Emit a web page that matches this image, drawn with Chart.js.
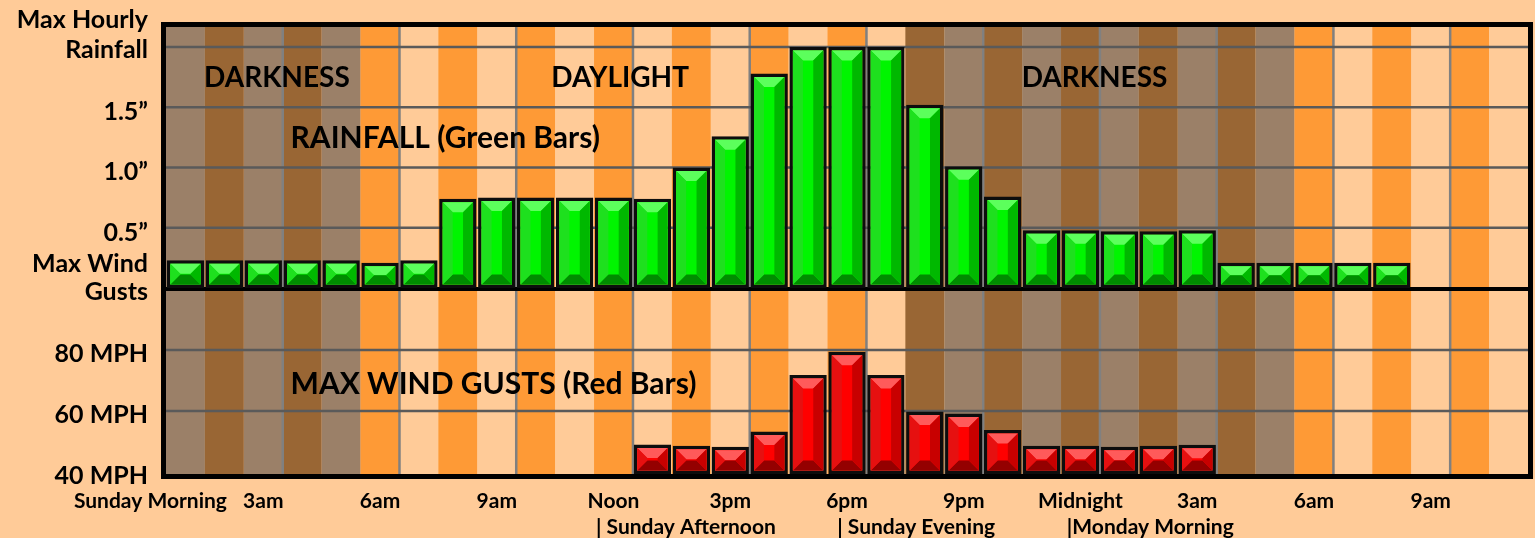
<!DOCTYPE html>
<html>
<head>
<meta charset="utf-8">
<script src="https://cdn.jsdelivr.net/npm/chart.js@4/dist/chart.umd.min.js"></script>
<style>
  html, body { margin: 0; padding: 0; background: #ffcb98; }
  #wrap { width: 1535px; height: 538px; }
</style>
</head>
<body>
<div id="wrap"><canvas id="stormChart"></canvas></div>
<script>
// one category per hour, Sunday midnight -> Monday 11am
const hourLabels = ["", "", "3am", "", "", "6am", "", "", "9am", "", "", "Noon", "", "",
  "3pm", "", "", "6pm", "", "", "9pm", "", "", "Midnight", "", "", "3am", "", "",
  "6am", "", "", "9am", "", ""];

// N = darkness, D = daylight
const lightPeriod = ["N", "N", "N", "N", "N", "D", "D", "D", "D", "D", "D", "D", "D", "D",
  "D", "D", "D", "D", "D", "N", "N", "N", "N", "N", "N", "N", "N", "N", "N",
  "D", "D", "D", "D", "D", "D"];

// max hourly rainfall, inches
const rainfall = [0.23, 0.23, 0.23, 0.23, 0.23, 0.21, 0.23, 0.74, 0.75, 0.75, 0.75, 0.75,
  0.74, 1.0, 1.26, 1.78, 2.0, 2.0, 2.0, 1.52, 1.01, 0.76, 0.48, 0.48, 0.47, 0.47, 0.48,
  0.21, 0.21, 0.21, 0.21, 0.21, null, null, null];

// max wind gusts, mph
const windGusts = [null, null, null, null, null, null, null, null, null, null, null, null,
  49, 48.6, 48.3, 53.3, 71.8, 79.4, 71.8, 59.8, 59.2, 53.8, 48.6, 48.6, 48.3, 48.6, 48.9,
  null, null, null, null, null, null, null, null];

const rainTicks = [0.5, 1.0, 1.5];
const rainGrid = [0.5, 1.0, 1.5, 2.0];
const windTicks = [40, 60, 80];
const windGrid = [60, 80];

const LABEL_FONT = "bold 25px Lato";
const X_FONT = "bold 21px Lato";

// extra labels under the time axis, placed by fractional hour index
const periodLabels = [
  { text: "Sunday Morning", at: -0.9, align: "center", row: 1 },
  { text: "| Sunday Afternoon", at: 10.55, align: "left", row: 2 },
  { text: "| Sunday Evening", at: 16.75, align: "left", row: 2 },
  { text: "|Monday Morning", at: 22.65, align: "left", row: 2 },
];

const notes = [
  { text: "DARKNESS", at: 2.35, v: 1.75, axis: "yRain", size: 28 },
  { text: "DAYLIGHT", at: 11.17, v: 1.75, axis: "yRain", size: 28 },
  { text: "DARKNESS", at: 23.36, v: 1.75, axis: "yRain", size: 28 },
  { text: "RAINFALL (Green Bars)", at: 2.7, v: 1.245, axis: "yRain", align: "left", size: 30 },
  { text: "MAX WIND GUSTS (Red Bars)", at: 2.7, v: 68.9, axis: "yWind", align: "left", size: 30 },
];

const windMin = 39.34;

function stripeColor(i) {
  if (lightPeriod[i] === "N") return i % 2 === 0 ? "#9b8068" : "#996634";
  return i % 2 === 1 ? "#fe9a36" : "#ffcb98";
}

const backdrop = {
  id: "backdrop",
  beforeDatasetsDraw(chart) {
    const { ctx, chartArea: a, scales } = chart;
    const x = scales.x, yr = scales.yRain, yw = scales.yWind;
    ctx.save();
    for (let i = 0; i < hourLabels.length; i++) {
      const l = x.getPixelForValue(i - 0.5);
      const r = x.getPixelForValue(i + 0.5);
      ctx.fillStyle = stripeColor(i);
      ctx.fillRect(l, a.top, r - l, a.bottom - a.top);
    }
    // vertical lines every three hours
    ctx.strokeStyle = "#808080";
    ctx.lineWidth = 2.5;
    for (let i = 2.5; i < hourLabels.length - 1; i += 3) {
      const px = x.getPixelForValue(i);
      ctx.beginPath();
      ctx.moveTo(px, a.top);
      ctx.lineTo(px, a.bottom);
      ctx.stroke();
    }
    ctx.strokeStyle = "#5a5a5a";
    ctx.lineWidth = 2.5;
    const hLine = (py) => {
      ctx.beginPath();
      ctx.moveTo(a.left, py);
      ctx.lineTo(a.right, py);
      ctx.stroke();
    };
    rainGrid.forEach((v) => hLine(yr.getPixelForValue(v)));
    windGrid.forEach((v) => hLine(yw.getPixelForValue(v)));
    // rainfall baseline
    ctx.strokeStyle = "#000";
    ctx.lineWidth = 4;
    hLine(yr.getPixelForValue(0) + 1);
    ctx.restore();
  },
};

const bevelColors = {
  rain: { top: "#5cff5c", left: "#1ee01e", right: "#00b800", bottom: "#008c00" },
  wind: { top: "#ff5a5a", left: "#e61010", right: "#c80000", bottom: "#940000" },
};

const bevel = {
  id: "bevel",
  afterDatasetsDraw(chart) {
    const { ctx, chartArea: a } = chart;
    ctx.save();
    ctx.beginPath();
    ctx.rect(a.left, a.top, a.right - a.left, a.bottom - a.top);
    ctx.clip();
    chart.data.datasets.forEach((ds, di) => {
      const meta = chart.getDatasetMeta(di);
      const c = bevelColors[ds.bevel];
      const bw = ds.borderWidth;
      meta.data.forEach((el, i) => {
        if (ds.data[i] == null) return;
        const { x, y, base, width } = el.getProps(["x", "y", "base", "width"], true);
        const l = x - width / 2 + bw, r = x + width / 2 - bw;
        const t = Math.min(y, base) + bw, b = Math.max(y, base) - bw;
        const s = Math.min(10, (r - l) / 2, (b - t) / 2);
        const poly = (pts, col) => {
          ctx.beginPath();
          ctx.moveTo(pts[0][0], pts[0][1]);
          for (let k = 1; k < pts.length; k++) ctx.lineTo(pts[k][0], pts[k][1]);
          ctx.closePath();
          ctx.fillStyle = col;
          ctx.fill();
        };
        poly([[l, t], [r, t], [r - s, t + s], [l + s, t + s]], c.top);
        poly([[l, b], [r, b], [r - s, b - s], [l + s, b - s]], c.bottom);
        poly([[l, t], [l + s, t + s], [l + s, b - s], [l, b]], c.left);
        poly([[r, t], [r - s, t + s], [r - s, b - s], [r, b]], c.right);
      });
    });
    ctx.restore();
  },
};

const overlay = {
  id: "overlay",
  afterDraw(chart) {
    const { ctx, chartArea: a, scales } = chart;
    const x = scales.x, yr = scales.yRain, yw = scales.yWind;
    ctx.save();
    // frame
    ctx.strokeStyle = "#000";
    ctx.lineWidth = 5;
    ctx.strokeRect(a.left - 2.5, a.top - 2.5, a.right - a.left + 5, a.bottom - a.top + 5);

    ctx.fillStyle = "#000";
    ctx.textBaseline = "alphabetic";
    // left-hand labels
    ctx.font = LABEL_FONT;
    ctx.textAlign = "right";
    const lx = a.left - 18;
    ctx.fillText("Max Hourly", lx, a.top + 1);
    ctx.fillText("Rainfall", lx, a.top + 31);
    rainTicks.forEach((v) => ctx.fillText(v.toFixed(1) + "\u201d", lx, yr.getPixelForValue(v) + 13));
    const zero = yr.getPixelForValue(0);
    ctx.fillText("Max Wind", lx, zero - 16);
    ctx.fillText("Gusts", lx, zero + 12);
    windTicks.forEach((v) => ctx.fillText(v + " MPH", lx, yw.getPixelForValue(v) + 12));

    // notes inside the plot
    notes.forEach((n) => {
      ctx.font = "bold " + n.size + "px Lato";
      ctx.textAlign = n.align || "center";
      ctx.fillText(n.text, x.getPixelForValue(n.at), scales[n.axis].getPixelForValue(n.v) + 10);
    });

    // extra labels under the time axis
    ctx.font = X_FONT;
    periodLabels.forEach((p) => {
      ctx.textAlign = p.align;
      ctx.fillText(p.text, x.getPixelForValue(p.at), p.row === 2 ? a.bottom + 60 : a.bottom + 34);
    });
    ctx.restore();
  },
};

new Chart(document.getElementById("stormChart"), {
  type: "bar",
  data: {
    labels: hourLabels,
    datasets: [
      {
        label: "Rainfall",
        data: rainfall,
        yAxisID: "yRain",
        backgroundColor: "#00f500",
        borderColor: "#0d0d0d",
        borderWidth: 3.5,
        borderSkipped: false,
        grouped: false,
        barPercentage: 0.96,
        categoryPercentage: 1.0,
        bevel: "rain",
      },
      {
        label: "Max Wind Gusts",
        data: windGusts,
        yAxisID: "yWind",
        base: windMin,
        backgroundColor: "#ff0000",
        borderColor: "#0d0d0d",
        borderWidth: 3.5,
        borderSkipped: false,
        grouped: false,
        barPercentage: 0.96,
        categoryPercentage: 1.0,
        bevel: "wind",
      },
    ],
  },
  options: {
    responsive: true,
    maintainAspectRatio: false,
    animation: false,
    layout: { padding: { left: 166, right: 7, top: 27, bottom: 0 } },
    plugins: {
      legend: { display: false },
      tooltip: { enabled: false },
    },
    scales: {
      x: {
        grid: { display: false, drawTicks: false },
        border: { display: false },
        ticks: {
          autoSkip: false,
          maxRotation: 0,
          padding: 15,
          color: "#000",
          font: { family: "Lato", size: 21, weight: "bold" },
        },
        afterFit: (s) => { s.height = 64; },
      },
      yRain: { display: false, min: -1.544, max: 2.166 },
      yWind: { display: false, min: windMin, max: 185.9 },
    },
  },
  plugins: [backdrop, bevel, overlay],
});
</script>
</body>
</html>
